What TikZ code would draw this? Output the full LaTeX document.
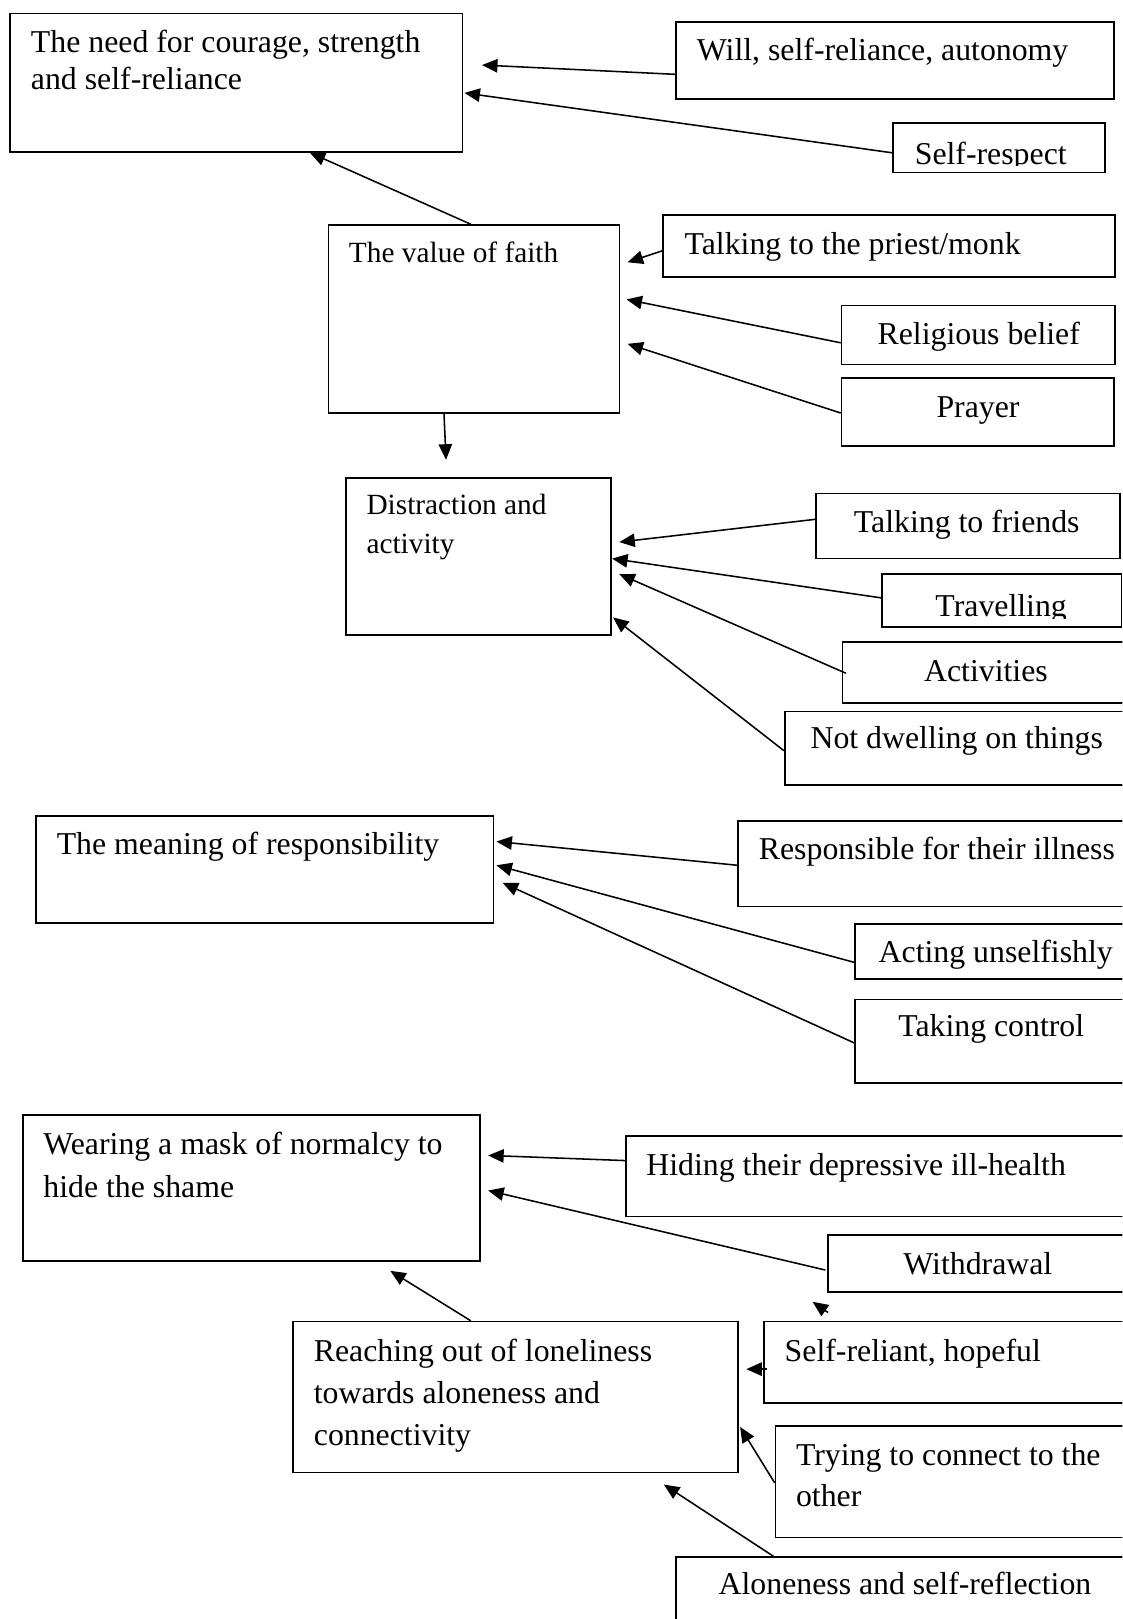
\documentclass[tikz,border=0pt]{standalone}
\usepackage{fontspec}
\setmainfont{Liberation Serif}
\usetikzlibrary{arrows.meta,fit,calc}
\tikzset{
  box/.style={draw=black,line width=0.8pt,inner sep=0pt,rectangle},
  txt/.style={anchor=base west,inner sep=0pt,outer sep=0pt,font=\fontsize{15.4}{20}\selectfont},
  arr/.style={draw=black,line width=0.75pt,-{Triangle[length=7.5pt,width=6.5pt]}}
}
\newcommand{\lines}[1]{\begin{tabular}[t]{@{}l@{}}#1\end{tabular}}
\begin{document}
\begin{tikzpicture}[x=0.5pt,y=-0.5pt]
\useasboundingbox (0,0) rectangle (1087,1568);
\clip (0,0) rectangle (1087,1568);
% boxes
\node[box,fit={(10,13)(448,147)}] (A) {};
\node[box,fit={(655,21)(1079,96)}] (will) {};
\node[box,fit={(865,119)(1070,167)}] (sr) {};
\node[box,fit={(318,218)(600,400)}] (faith) {};
\node[box,fit={(642,208)(1080,268)}] (priest) {};
\node[box,fit={(815,296)(1080,353)}] (rel) {};
\node[box,fit={(815,366)(1079,432)}] (prayer) {};
\node[box,fit={(335,463)(592,615)}] (dist) {};
\node[box,fit={(790,478)(1085,541)}] (friends) {};
\node[box,fit={(854,556)(1086,607)}] (trav) {};
\node[box,fit={(816,622)(1100,681)}] (act) {};
\node[box,fit={(760,689)(1100,760)}] (notd) {};
\node[box,fit={(35,790)(478,894)}] (mean) {};
\node[box,fit={(715,795)(1100,878)}] (resp) {};
\node[box,fit={(828,895)(1100,948)}] (acting) {};
\node[box,fit={(828,968)(1100,1049)}] (taking) {};
\node[box,fit={(22,1080)(465,1221)}] (wear) {};
\node[box,fit={(606,1100)(1100,1178)}] (hiding) {};
\node[box,fit={(802,1196)(1100,1251)}] (withd) {};
\node[box,fit={(740,1280)(1100,1359)}] (selfrel) {};
\node[box,fit={(284,1280)(715,1426)}] (reach) {};
\node[box,fit={(751,1381)(1100,1489)}] (trying) {};
\node[box,fit={(655,1508)(1100,1600)}] (alone) {};
% texts
\node[txt,font=\fontsize{15.4}{17.75}\selectfont] (tA) at (30,51) {\lines{The need for courage, strength\\and self-reliance}};
\node[txt] (twill) at (675,59) {Will, self-reliance, autonomy};
\begin{scope}
\clip (sr.north west) rectangle (sr.east |- 0,160.5);
\node[txt] (tsr) at (886,159.5) {Self-respect};
\end{scope}
\node[txt,font=\fontsize{14.2}{19}\selectfont] (tfaith) at (338,254) {The value of faith};
\node[txt] (tpriest) at (663,246) {Talking to the priest/monk};
\node[txt] (trel) at (850,334) {Religious belief};
\node[txt] (tprayer) at (907,404) {Prayer};
\node[txt,font=\fontsize{14.2}{19}\selectfont] (tdist) at (355,498) {\lines{Distraction and\\activity}};
\node[txt] (tfriends) at (827,516) {Talking to friends};
\begin{scope}
\clip (trav.north west) rectangle (trav.east |- 0,599);
\node[txt] (ttrav) at (906,597) {Travelling};
\end{scope}
\node[txt] (tact) at (895,660) {Activities};
\node[txt] (tnotd) at (785,725) {Not dwelling on things};
\node[txt] (tmean) at (55,828) {The meaning of responsibility};
\node[txt] (tresp) at (735,832) {Responsible for their illness};
\node[txt] (tacting) at (851,932) {Acting unselfishly};
\node[txt] (ttaking) at (870,1004) {Taking control};
\node[txt,font=\fontsize{15.4}{20.75}\selectfont] (twear) at (42,1118) {\lines{Wearing a mask of normalcy to\\hide the shame}};
\node[txt] (thiding) at (626,1138) {Hiding their depressive ill-health};
\node[txt] (twithd) at (875,1234) {Withdrawal};
\node[txt] (tselfrel) at (760,1319) {Self-reliant, hopeful};
\node[txt,font=\fontsize{15.4}{20.25}\selectfont] (treach) at (304,1319) {\lines{Reaching out of loneliness\\towards aloneness and\\connectivity}};
\node[txt] (ttrying) at (771,1419) {\lines{Trying to connect to the\\other}};
\node[txt] (talone) at (696,1544) {Aloneness and self-reflection};
% connectors
\draw[arr] (will.west |- 0,72) -- ($(A.east |- 0,63)+(18,0)$);
\draw[arr] (sr.west |- 0,148) -- ($(A.east |- 0,90)+(1,0)$);
\draw[arr] (faith.north -| 456,0) -- (A.south -| 300,0);
\draw[arr] (faith.south -| 430,0) -- ($(dist.north -| 432,0)+(0,-17)$);
\draw[arr] (priest.west |- 0,243) -- ($(faith.east |- 0,254)+(7,0)$);
\draw[arr] (rel.west |- 0,332) -- ($(faith.east |- 0,290)+(6,0)$);
\draw[arr] (prayer.west |- 0,400) -- ($(faith.east |- 0,333)+(7,0)$);
\draw[arr] (friends.west |- 0,503) -- ($(dist.east |- 0,525)+(7,0)$);
\draw[arr] (trav.west |- 0,579) -- (dist.east |- 0,541);
\draw[arr] ($(act.west |- 0,652)+(4,0)$) -- ($(dist.east |- 0,556)+(7,0)$);
\draw[arr] (notd.west |- 0,727) -- ($(dist.east |- 0,598)+(1,0)$);
\draw[arr] (resp.west |- 0,838) -- ($(mean.east |- 0,815)+(2,0)$);
\draw[arr] (acting.west |- 0,932) -- ($(mean.east |- 0,838)+(2,0)$);
\draw[arr] (taking.west |- 0,1010) -- ($(mean.east |- 0,855)+(8,0)$);
\draw[arr] (hiding.west |- 0,1124) -- ($(wear.east |- 0,1119)+(7,0)$);
\draw[arr] ($(withd.west |- 0,1230)+(-2,0)$) -- ($(wear.east |- 0,1153)+(7,0)$);
\draw[arr] ($(selfrel.north -| 802,0)+(0,-8)$) -- ($(withd.south -| 787,0)+(0,9)$);
\draw[arr] ($(selfrel.west |- 0,1326)+(4,0)$) -- ($(reach.east |- 0,1326)+(7,0)$);
\draw[arr] (trying.west |- 0,1436) -- ($(reach.east |- 0,1382)+(1,0)$);
\draw[arr] (alone.north -| 749,0) -- ($(reach.south -| 643,0)+(0,11)$);
\draw[arr] (reach.north -| 456,0) -- ($(wear.south -| 378,0)+(0,9)$);
\end{tikzpicture}
\end{document}
